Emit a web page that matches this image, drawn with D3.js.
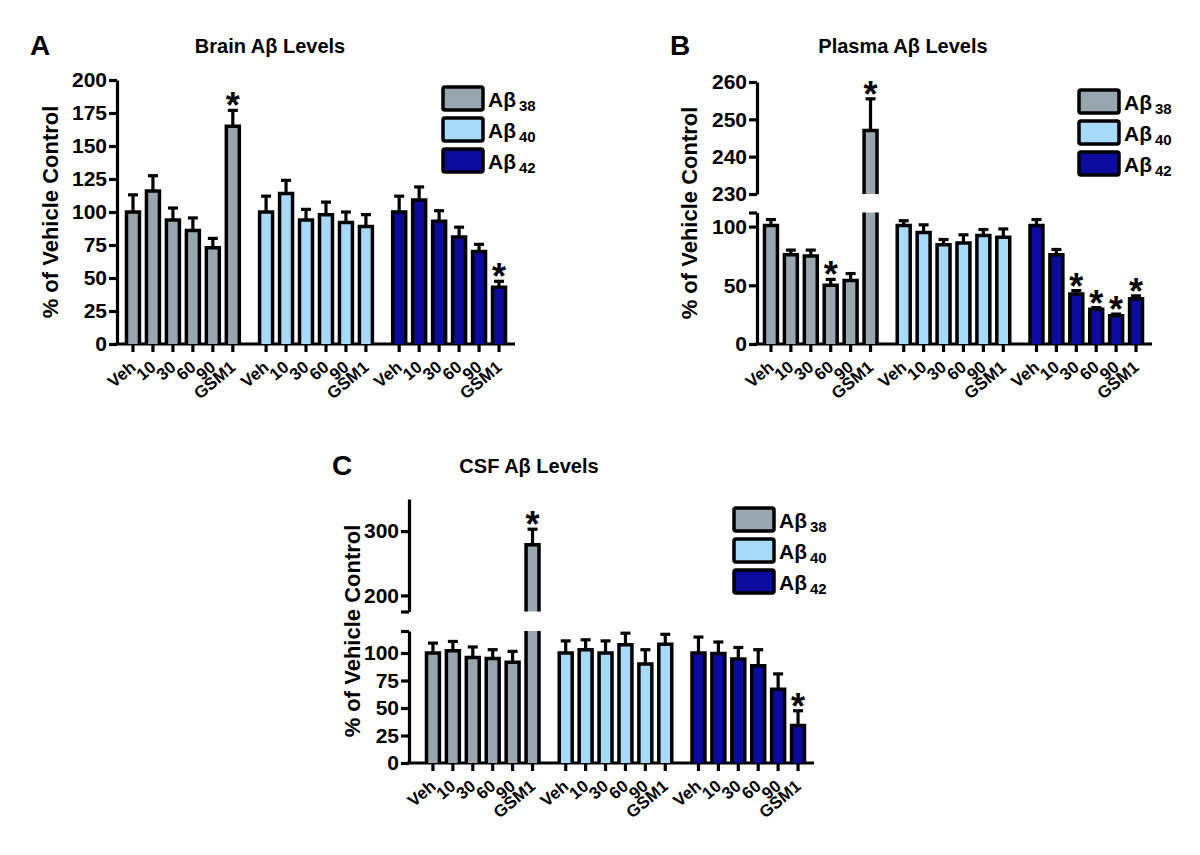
<!DOCTYPE html>
<html><head><meta charset="utf-8">
<script src="https://cdn.jsdelivr.net/npm/d3@7"></script>
<style>
body{margin:0;background:#fff}
svg text{font-family:"Liberation Sans",Arial,sans-serif;font-weight:bold;fill:#000}
</style>
</head><body>
<svg id="chart" width="1200" height="855"></svg>
<script>
// ---------- data ----------
const categories = ["Veh","10","30","60","90","GSM1"];
const seriesNames = ["38","40","42"];
const seriesColors = ["#98a7af","#a7d9f9","#0b0b9e"];

const brainAb38 = [100,116,94,86,73,165];
const brainAb38Sem = [13,11.5,9,9.5,7,12];
const brainAb40 = [100,114,94,98,92,89];
const brainAb40Sem = [12,10,8,9.5,8,9];
const brainAb42 = [100,109,93,81,70,43];
const brainAb42Sem = [12,10,8,7.5,5.5,4.5];
const brainSig = [[5],[],[5]];

const plasmaAb38 = [101,76,75,50,54,247];
const plasmaAb38Sem = [5,4,5,5,6,8.5];
const plasmaAb40 = [101,95,84.5,86,92.5,91];
const plasmaAb40Sem = [4,6.5,4.5,7,5,7];
const plasmaAb42 = [101,76,42.5,29.5,24,38.5];
const plasmaAb42Sem = [5,4.5,3,1.5,1.5,2.5];
const plasmaSig = [[3,5],[],[2,3,4,5]];

const csfAb38 = [100,102,96,95,91.5,279];
const csfAb38Sem = [9,8.5,9.5,8,10,24];
const csfAb40 = [100,103,100,107.5,90,108];
const csfAb40Sem = [11,9,11,10.5,13,9];
const csfAb42 = [100,99.5,94.5,88.5,67,34];
const csfAb42Sem = [14.5,10.5,10.5,14.5,14,13.5];
const csfSig = [[5],[],[5]];

const brainTicks = [0,25,50,75,100,125,150,175,200];
const plasmaLowTicks = [0,50,100];
const plasmaHighTicks = [230,240,250,260];
const csfLowTicks = [0,25,50,75,100];
const csfHighTicks = [200,300];

// ---------- drawing ----------
const svg = d3.select("#chart");
const LW = 3.2;

function drawPanel(p) {
  const g = svg.append("g");
  const x0 = d3.scaleBand().domain(seriesNames).range([p.xStart, p.xEnd]).paddingInner(0.1);
  const x1 = d3.scaleBand().domain(categories).range([0, x0.bandwidth()]).paddingInner(0.35).paddingOuter(0.175);
  p.segments.forEach(s => { s.y = d3.scaleLinear().domain(s.domain).range(s.range); });
  const y0 = p.segments[0].range[0];

  // y axes
  p.segments.forEach(s => {
    const ax = d3.axisLeft(s.y).tickValues(s.ticks.concat(s.caps)).tickSize(8).tickSizeOuter(0).tickPadding(2)
      .tickFormat(d => s.ticks.includes(d) ? d : "");
    const a = g.append("g").attr("transform", `translate(${p.axisX},0)`).call(ax);
    a.select(".domain").attr("stroke-width", LW).attr("stroke", "#000");
    a.selectAll(".tick line").attr("stroke-width", LW).attr("stroke", "#000");
    a.selectAll(".tick text").attr("font-size", 21).attr("font-family", null).attr("fill", "#000");
  });

  // x axis line
  g.append("line").attr("x1", p.axisX - LW/2).attr("x2", p.xAxisEnd).attr("y1", y0).attr("y2", y0)
    .attr("stroke", "#000").attr("stroke-width", LW);

  const means = p.means, sems = p.sems;
  seriesNames.forEach((sn, si) => {
    const gx = g.append("g").attr("transform", `translate(${x0(sn)},0)`);
    // x ticks + labels
    const xa = d3.axisBottom(x1).tickSize(8).tickSizeOuter(0);
    const xg = gx.append("g").attr("transform", `translate(0,${y0})`).call(xa);
    xg.select(".domain").remove();
    xg.selectAll(".tick line").attr("stroke-width", LW).attr("stroke", "#000");
    xg.selectAll(".tick text").attr("font-size", 17).attr("font-family", null).attr("fill", "#000")
      .attr("text-anchor", "end").attr("x", 0).attr("y", 0).attr("dy", 0)
      .attr("transform", "translate(4,25) rotate(-40)");

    const bw = x1.bandwidth();
    categories.forEach((c, ci) => {
      const v = means[si][ci];
      const bx = x1(c);
      p.segments.forEach(s => {
        const lo = s.domain[0], hi = s.domain[1];
        if (v <= lo) return;
        const top = Math.min(v, hi);
        const yt = s.y(top), yb = s.y(lo);
        gx.append("rect").attr("x", bx).attr("y", yt).attr("width", bw).attr("height", yb - yt)
          .attr("fill", seriesColors[si]);
        let d = `M${bx},${yb}L${bx},${yt}`;
        if (v <= hi) d += `L${bx+bw},${yt}`; else d += `M${bx+bw},${yt}`;
        d += `L${bx+bw},${yb}`;
        gx.append("path").attr("d", d).attr("fill", "none").attr("stroke", "#000")
          .attr("stroke-width", LW + 0.3).attr("stroke-linejoin", "miter");
      });
      // error bar
      const e = v + sems[si][ci];
      const s = p.segments.find(s => e >= s.domain[0] && e <= s.domain[1]);
      const cx = bx + bw / 2;
      const yv = s.y(Math.max(v, s.domain[0]));
      const ye = s.y(e);
      gx.append("line").attr("x1", cx).attr("x2", cx).attr("y1", yv).attr("y2", ye)
        .attr("stroke", "#000").attr("stroke-width", LW);
      gx.append("line").attr("x1", cx - 5).attr("x2", cx + 5).attr("y1", ye).attr("y2", ye)
        .attr("stroke", "#000").attr("stroke-width", LW);
      if (p.sig[si].includes(ci)) {
        gx.append("text").attr("x", cx).attr("y", ye + 8).attr("text-anchor", "middle")
          .attr("font-size", 36).text("*");
      }
    });
  });

  // titles and labels
  svg.append("text").attr("x", p.labelX).attr("y", p.labelY).attr("font-size", 28).text(p.label);
  svg.append("text").attr("x", p.titleX).attr("y", p.titleY).attr("text-anchor", "middle")
    .attr("font-size", 20).text(p.title);
  const yc = (p.segments[0].range[0] + p.segments[p.segments.length - 1].range[1]) / 2;
  svg.append("text").attr("transform", `translate(${p.yLabelX},${yc}) rotate(-90)`)
    .attr("text-anchor", "middle").attr("dy", "0.36em").attr("font-size", 22).text("% of Vehicle Control");

  // legend
  seriesNames.forEach((sn, i) => {
    const ly = p.legendY + i * 31;
    svg.append("rect").attr("x", p.legendX).attr("y", ly).attr("width", 40).attr("height", 23)
      .attr("rx", 2).attr("fill", seriesColors[i]).attr("stroke", "#000").attr("stroke-width", 3.5);
    const t = svg.append("text").attr("x", p.legendX + 45).attr("y", ly + 20).attr("font-size", 21).text("Aβ");
    t.append("tspan").attr("dx", 3).attr("dy", 4).attr("font-size", 15).text(sn);
  });
}

drawPanel({
  label: "A", labelX: 30, labelY: 55, title: "Brain Aβ Levels", titleX: 270, titleY: 53,
  axisX: 117, xStart: 123, xEnd: 509, xAxisEnd: 515, yLabelX: 50,
  segments: [{ domain: [0, 200], range: [344, 80], ticks: brainTicks, caps: [] }],
  legendX: 443, legendY: 87,
  means: [brainAb38, brainAb40, brainAb42], sems: [brainAb38Sem, brainAb40Sem, brainAb42Sem], sig: brainSig
});

drawPanel({
  label: "B", labelX: 670, labelY: 55, title: "Plasma Aβ Levels", titleX: 903, titleY: 53,
  axisX: 757, xStart: 761, xEnd: 1146, xAxisEnd: 1152, yLabelX: 689,
  segments: [
    { domain: [0, 112], range: [344, 212.5], ticks: plasmaLowTicks, caps: [112] },
    { domain: [230, 260], range: [194, 82], ticks: plasmaHighTicks, caps: [] }
  ],
  legendX: 1079, legendY: 90,
  means: [plasmaAb38, plasmaAb40, plasmaAb42], sems: [plasmaAb38Sem, plasmaAb40Sem, plasmaAb42Sem], sig: plasmaSig
});

drawPanel({
  label: "C", labelX: 332, labelY: 475, title: "CSF Aβ Levels", titleX: 529, titleY: 473,
  axisX: 409, xStart: 423, xEnd: 808, xAxisEnd: 814, yLabelX: 352,
  segments: [
    { domain: [0, 120], range: [763, 631], ticks: csfLowTicks, caps: [120] },
    { domain: [175, 350], range: [611.5, 499], ticks: csfHighTicks, caps: [175] }
  ],
  legendX: 734, legendY: 508,
  means: [csfAb38, csfAb40, csfAb42], sems: [csfAb38Sem, csfAb40Sem, csfAb42Sem], sig: csfSig
});
</script>
</body></html>
